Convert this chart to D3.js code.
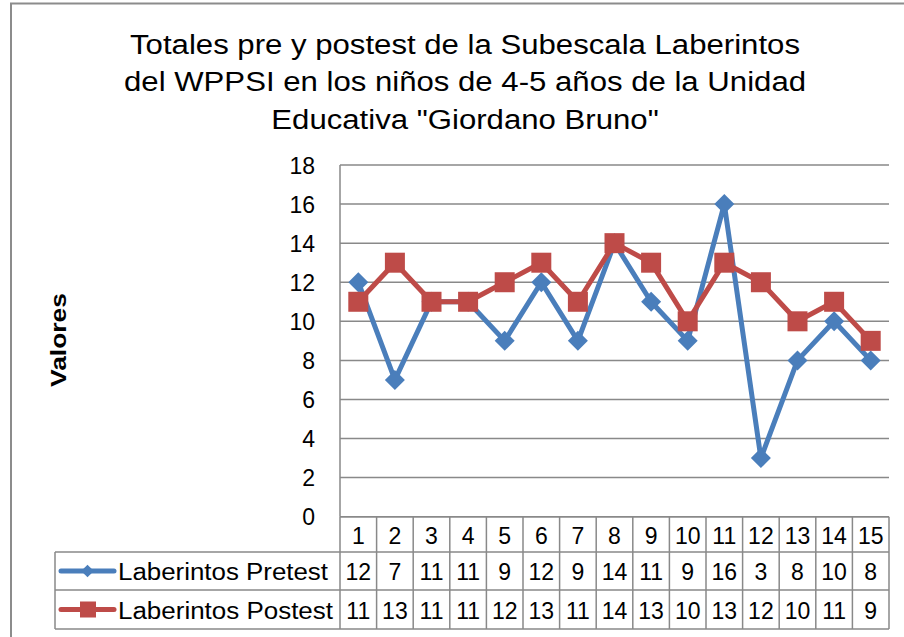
<!DOCTYPE html>
<html><head><meta charset="utf-8">
<script src="https://cdn.jsdelivr.net/npm/d3@7/dist/d3.min.js"></script>
<style>body{margin:0;background:#fff}svg{display:block;font-family:"Liberation Sans",Arial,sans-serif}</style>
</head><body><svg id="c" width="904" height="637"></svg>
<script>
const categories = ["1","2","3","4","5","6","7","8","9","10","11","12","13","14","15"];
const pretest = [12,7,11,11,9,12,9,14,11,9,16,3,8,10,8];
const postest = [11,13,11,11,12,13,11,14,13,10,13,12,10,11,9];
const yTicks = [0,2,4,6,8,10,12,14,16,18];
const titleLines = ["Totales pre y postest de la Subescala Laberintos","del WPPSI en los niños de 4-5 años de la Unidad","Educativa \"Giordano Bruno\""];
const seriesNames = ["Laberintos Pretest","Laberintos Postest"];

const svg = d3.select("#c");
const L=340, R=889, T=165, B=516.7;
const x = d3.scaleBand().domain(categories).range([L,R]);
const y = d3.scaleLinear().domain([0,18]).range([B,T]);
const grid="#898989";
const FF="Liberation Sans, Arial, sans-serif";

// outer border
svg.append("path").attr("d","M11,637 L11,3.5 L904,3.5").attr("fill","none").attr("stroke","#8c8c8c").attr("stroke-width",2);

// title (stretched horizontally to match)
const tt = svg.append("g").selectAll("g").data(titleLines).join("g")
  .attr("transform",(d,i)=>`translate(465,${53.5+i*37.5})`);
const ttext = tt.append("text").attr("text-anchor","middle").attr("font-size",28).attr("fill","#000").text(d=>d);
const w1 = ttext.nodes()[0].getComputedTextLength();
const sxT = 670 / w1;
ttext.attr("transform",`scale(${sxT},1)`);

// gridlines
svg.append("g").selectAll("line").data(yTicks).join("line")
  .attr("x1",L).attr("x2",R).attr("y1",d=>y(d)).attr("y2",d=>y(d))
  .attr("stroke",grid).attr("stroke-width",1.5);
svg.append("line").attr("x1",L).attr("x2",L).attr("y1",T).attr("y2",B).attr("stroke",grid).attr("stroke-width",1.5);

// y axis labels
const yAxis = d3.axisLeft(y).tickValues(yTicks).tickSize(0).tickPadding(0);
const ya = svg.append("g").attr("transform",`translate(315,0)`).call(yAxis);
ya.select(".domain").remove();
ya.selectAll("text").attr("font-size",23).attr("font-family",FF).attr("fill","#000").attr("dy","0.36em");

// axis title
svg.append("text").attr("transform","translate(66,340) rotate(-90)").attr("text-anchor","middle")
  .attr("font-size",22).attr("font-weight","bold").attr("textLength",94).attr("lengthAdjust","spacingAndGlyphs").text("Valores");

// data table
const rowTop=[516.7,552,590,629];
const tg = svg.append("g");
const cx = c=>x(c)+x.bandwidth()/2;
const rows = [categories, pretest, postest];
rows.forEach((vals,r)=>{
  tg.append("g").selectAll("text").data(vals).join("text")
    .attr("x",(d,i)=>cx(categories[i])).attr("y",(rowTop[r]+rowTop[r+1])/2+1).attr("dy","0.36em")
    .attr("text-anchor","middle").attr("font-size",23).text(d=>d);
});
// horizontal table lines
const tl = [[L,R,rowTop[0]],[55,R,rowTop[1]],[55,R,rowTop[2]],[55,R,rowTop[3]]];
tg.selectAll("line.h").data(tl).join("line").attr("class","h")
  .attr("x1",d=>d[0]).attr("x2",d=>d[1]).attr("y1",d=>d[2]).attr("y2",d=>d[2]).attr("stroke",grid).attr("stroke-width",1.5);
// vertical lines
const vx = categories.map(c=>x(c)).concat([R]);
tg.selectAll("line.v").data(vx).join("line").attr("class","v")
  .attr("x1",d=>d).attr("x2",d=>d).attr("y1",rowTop[0]).attr("y2",rowTop[3]).attr("stroke",grid).attr("stroke-width",1.5);
tg.append("line").attr("x1",55).attr("x2",55).attr("y1",rowTop[1]).attr("y2",rowTop[3]).attr("stroke",grid).attr("stroke-width",1.5);

const colors=["#4A7EBB","#BE4B48"];
const line = d3.line().x((d,i)=>cx(categories[i])).y(d=>y(d));

// legend rows
[0,1].forEach(k=>{
  const yy=(rowTop[k+1]+rowTop[k+2])/2;
  tg.append("line").attr("x1",61).attr("x2",114).attr("y1",yy).attr("y2",yy).attr("stroke",colors[k]).attr("stroke-width",5).attr("stroke-linecap","round");
  if(k===0) tg.append("path").attr("d",d3.symbol().type(d3.symbolSquare).size(80)()).attr("transform",`translate(87.5,${yy}) rotate(45)`).attr("fill",colors[0]);
  else tg.append("rect").attr("x",80).attr("y",yy-8).attr("width",16).attr("height",16).attr("fill",colors[1]);
  tg.append("text").attr("x",118).attr("y",yy+1).attr("dy","0.36em").attr("font-size",23)
    .attr("textLength",k===0?210:215).attr("lengthAdjust","spacingAndGlyphs").text(seriesNames[k]);
});

// series
svg.append("path").datum(pretest).attr("d",line).attr("fill","none").attr("stroke",colors[0]).attr("stroke-width",5).attr("stroke-linejoin","round");
svg.append("g").selectAll("path").data(pretest).join("path")
  .attr("d",d3.symbol().type(d3.symbolSquare).size(200)())
  .attr("transform",(d,i)=>`translate(${cx(categories[i])},${y(d)}) rotate(45)`).attr("fill",colors[0]);
svg.append("path").datum(postest).attr("d",line).attr("fill","none").attr("stroke",colors[1]).attr("stroke-width",5).attr("stroke-linejoin","round");
svg.append("g").selectAll("rect").data(postest).join("rect")
  .attr("x",(d,i)=>cx(categories[i])-10).attr("y",d=>y(d)-10).attr("width",20).attr("height",20).attr("fill",colors[1]);
</script></body></html>
